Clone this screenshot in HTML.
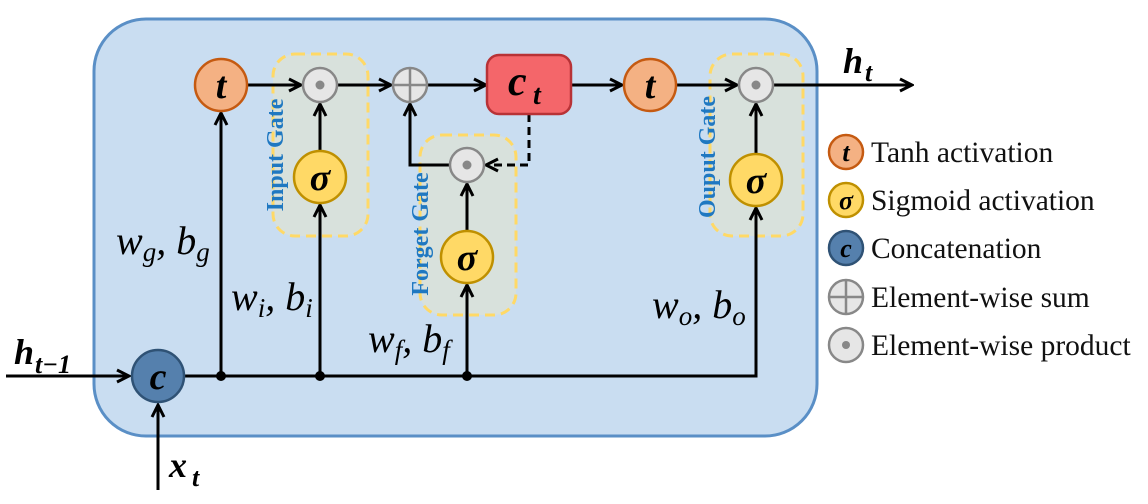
<!DOCTYPE html>
<html><head><meta charset="utf-8"><style>
html,body{margin:0;padding:0;background:#fff;}
svg{display:block;}
.m{font-family:"Liberation Serif",serif;font-style:italic;}
.b{font-family:"Liberation Serif",serif;font-weight:bold;font-style:italic;}
.g{font-family:"Liberation Serif",serif;font-weight:bold;fill:#1f78c1;font-size:24px;}
.l{font-family:"Liberation Serif",serif;font-size:29.5px;fill:#111;}
</style></head><body>
<svg width="1148" height="504" viewBox="0 0 1148 504" xmlns="http://www.w3.org/2000/svg">
<defs>
<marker id="ah" markerWidth="16" markerHeight="16" refX="14" refY="8" orient="auto" markerUnits="userSpaceOnUse" viewBox="0 0 16 16">
<path d="M2,2 L14,8 L2,14" fill="none" stroke="#000" stroke-width="3"/>
</marker>
</defs>
<rect x="94" y="19" width="723" height="417" rx="52" fill="#c9ddf1" stroke="#5a8fc6" stroke-width="3"/>
<rect x="273" y="54" width="95" height="182" rx="22" fill="#d8e1dc" stroke="#ffd966" stroke-width="3" stroke-dasharray="10,6"/>
<rect x="420" y="135" width="96" height="180" rx="22" fill="#d8e1dc" stroke="#ffd966" stroke-width="3" stroke-dasharray="10,6"/>
<rect x="710" y="54" width="93" height="182" rx="22" fill="#d8e1dc" stroke="#ffd966" stroke-width="3" stroke-dasharray="10,6"/>
<g stroke="#000" stroke-width="3" fill="none">
<line x1="6" y1="376" x2="129" y2="376" marker-end="url(#ah)"/>
<line x1="158" y1="490" x2="158" y2="405" marker-end="url(#ah)"/>
<polyline points="185,376 756,376 756,208" marker-end="url(#ah)"/>
<line x1="221" y1="376" x2="221" y2="113" marker-end="url(#ah)"/>
<line x1="320" y1="376" x2="320" y2="205" marker-end="url(#ah)"/>
<line x1="467" y1="376" x2="467" y2="285" marker-end="url(#ah)"/>
<line x1="320" y1="151" x2="320" y2="104" marker-end="url(#ah)"/>
<line x1="467" y1="231" x2="467" y2="184" marker-end="url(#ah)"/>
<line x1="756" y1="154" x2="756" y2="104" marker-end="url(#ah)"/>
<line x1="247" y1="85" x2="301" y2="85" marker-end="url(#ah)"/>
<line x1="337" y1="85" x2="391" y2="85" marker-end="url(#ah)"/>
<line x1="427" y1="85" x2="486" y2="85" marker-end="url(#ah)"/>
<line x1="571" y1="85" x2="622" y2="85" marker-end="url(#ah)"/>
<line x1="676" y1="85" x2="737" y2="85" marker-end="url(#ah)"/>
<line x1="773" y1="85" x2="912" y2="85" marker-end="url(#ah)"/>
<polyline points="450,165 410,165 410,104" marker-end="url(#ah)"/>
<polyline points="529,114 529,165 486,165" stroke-dasharray="8,5" marker-end="url(#ah)"/>
</g>
<g fill="#000"><circle cx="221" cy="376" r="5"/><circle cx="320" cy="376" r="5"/><circle cx="467" cy="376" r="5"/></g>
<g stroke-width="2.5">
<circle cx="221" cy="85" r="26" fill="#f4b183" stroke="#c55a11"/>
<circle cx="650" cy="85" r="26" fill="#f4b183" stroke="#c55a11"/>
<circle cx="320" cy="177" r="26" fill="#ffd966" stroke="#bf9000"/>
<circle cx="467" cy="257" r="26" fill="#ffd966" stroke="#bf9000"/>
<circle cx="756" cy="180" r="26" fill="#ffd966" stroke="#bf9000"/>
<circle cx="158" cy="376" r="26" fill="#5580ad" stroke="#2f5275"/>
<circle cx="320" cy="85" r="17" fill="#e6e6e6" stroke="#888"/>
<circle cx="467" cy="165" r="17" fill="#e6e6e6" stroke="#888"/>
<circle cx="756" cy="85" r="17" fill="#e6e6e6" stroke="#888"/>
<circle cx="410" cy="85" r="17" fill="#e6e6e6" stroke="#888"/>
<rect x="487" y="55" width="84" height="59" rx="12" fill="#f4666a" stroke="#b83236"/>
</g>
<path d="M410,68 V102 M393,85 H427" stroke="#888" stroke-width="2.5"/>
<g fill="#888"><circle cx="320" cy="85" r="4.5"/><circle cx="467" cy="165" r="4.5"/><circle cx="756" cy="85" r="4.5"/></g>
<g class="b" font-size="38" text-anchor="middle">
<text x="221" y="98">t</text><text x="650" y="98">t</text>
<text x="320" y="190">σ</text><text x="467" y="270">σ</text><text x="756" y="193">σ</text>
<text x="158" y="389">c</text>
</g>
<text class="b" x="508" y="95" font-size="42">c</text><text class="b" x="533" y="104" font-size="28">t</text>
<text class="b" x="843" y="73" font-size="36">h</text><text class="b" x="865" y="81" font-size="26">t</text>
<text class="b" x="14" y="364" font-size="36">h</text><text class="b" x="35" y="373" font-size="26">t−1</text>
<text class="b" x="169" y="477" font-size="36">x</text><text class="b" x="192" y="486" font-size="26">t</text>
<g class="m" font-size="40">
<text x="116" y="254">w<tspan font-size="27" dy="7">g</tspan><tspan dy="-7">, b</tspan><tspan font-size="27" dy="7">g</tspan></text>
<text x="231" y="310">w<tspan font-size="27" dy="7">i</tspan><tspan dy="-7">, b</tspan><tspan font-size="27" dy="7">i</tspan></text>
<text x="368" y="352">w<tspan font-size="27" dy="7">f</tspan><tspan dy="-7">, b</tspan><tspan font-size="27" dy="7">f</tspan></text>
<text x="652" y="318">w<tspan font-size="27" dy="7">o</tspan><tspan dy="-7">, b</tspan><tspan font-size="27" dy="7">o</tspan></text>
</g>
<text class="g" transform="translate(283,155) rotate(-90)" text-anchor="middle">Input Gate</text>
<text class="g" transform="translate(428,234) rotate(-90)" text-anchor="middle">Forget Gate</text>
<text class="g" transform="translate(715,157) rotate(-90)" text-anchor="middle">Ouput Gate</text>
<g stroke-width="2.5">
<circle cx="846" cy="152" r="17" fill="#f4b183" stroke="#c55a11"/>
<circle cx="846" cy="200" r="17" fill="#ffd966" stroke="#bf9000"/>
<circle cx="846" cy="248" r="17" fill="#5580ad" stroke="#2f5275"/>
<circle cx="846" cy="297" r="17" fill="#e6e6e6" stroke="#888"/>
<circle cx="846" cy="345" r="17" fill="#e6e6e6" stroke="#888"/>
</g>
<path d="M846,280 V314 M829,297 H863" stroke="#888" stroke-width="2.5"/>
<circle cx="846" cy="345" r="4" fill="#888"/>
<g class="b" font-size="26" text-anchor="middle">
<text x="846" y="161">t</text><text x="846" y="209">σ</text><text x="846" y="257">c</text>
</g>
<text class="l" x="871" y="162">Tanh activation</text>
<text class="l" x="871" y="210">Sigmoid activation</text>
<text class="l" x="871" y="258">Concatenation</text>
<text class="l" x="871" y="307">Element-wise sum</text>
<text class="l" x="871" y="355">Element-wise product</text>
</svg>
</body></html>
